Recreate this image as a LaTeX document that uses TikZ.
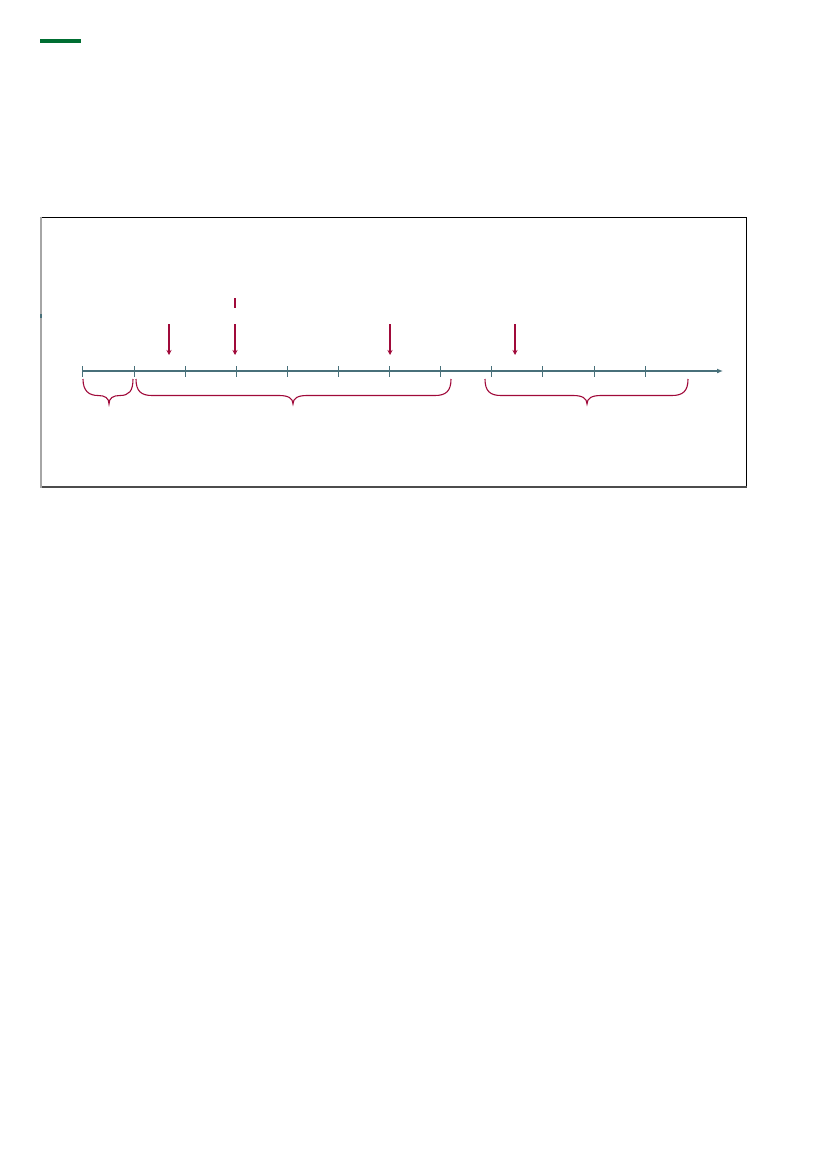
\documentclass[tikz,border=0pt]{standalone}
\usetikzlibrary{arrows.meta}
\begin{document}
\begin{tikzpicture}[x=1pt,y=-1pt,
  axis/.style={draw=axiscol,line width=1.3pt},
  tickmark/.style={draw=axiscol,line width=1pt},
  marker/.style={draw=crim,line width=1.1pt,-{Stealth[length=5pt,width=5pt]}},
  bracecurve/.style={draw=crim,line width=1.1pt}]
\definecolor{axiscol}{RGB}{72,112,122}
\definecolor{crim}{RGB}{160,10,58}
\definecolor{greenbar}{RGB}{0,110,50}
\useasboundingbox (0,0) rectangle (827,1169);
% green bar
\fill[greenbar] (40,39) rectangle (81,43);
% frame
\draw[black,line width=1pt] (40,217) -- (746.5,217) -- (746.5,487);
\draw[black!70,line width=1.2pt] (746.5,487) -- (40,487);
\draw[black!35,line width=2pt] (41,216.5) -- (41,488);
\fill[axiscol] (40,314) rectangle (42,318);
% axis
\coordinate (a0) at (82,371);
\coordinate (a1) at (723,371);
\draw[axis,-{Latex[length=6pt,width=5pt]}] (a0) -- (a1);
\foreach \x in {82,134,185,236,287,338,389,440,491,542,594,645}
  \draw[tickmark] (\x,366) -- (\x,377);
% markers
\foreach \x in {169,235,390,515} {
  \coordinate (s\x) at (\x,324);
  \coordinate (e\x) at (\x,355);
  \draw[marker] (s\x) -- (e\x);
}
\draw[crim,line width=1.1pt] (235,298) -- (235,308);
% braces
\draw[bracecurve] (83,379) .. controls (83,391) and (89,395.5) .. (98,395.5)
  .. controls (105,395.5) and (109,398) .. (109,404)
  .. controls (109,398) and (113,395.5) .. (120,395.5)
  .. controls (129,395.5) and (133,391) .. (133,379);
\draw[bracecurve] (136,379) .. controls (136,391) and (141,395.5) .. (152,395.5)
  -- (279,395.5) .. controls (288,395.5) and (293,398) .. (293,404)
  .. controls (293,398) and (298,395.5) .. (307,395.5)
  -- (435,395.5) .. controls (446,395.5) and (451,391) .. (451,379);
\draw[bracecurve] (485,379) .. controls (485,391) and (490,395.5) .. (501,395.5)
  -- (573,395.5) .. controls (582,395.5) and (587,398) .. (587,404)
  .. controls (587,398) and (592,395.5) .. (601,395.5)
  -- (672,395.5) .. controls (683,395.5) and (688,391) .. (688,379);
\end{tikzpicture}
\end{document}
